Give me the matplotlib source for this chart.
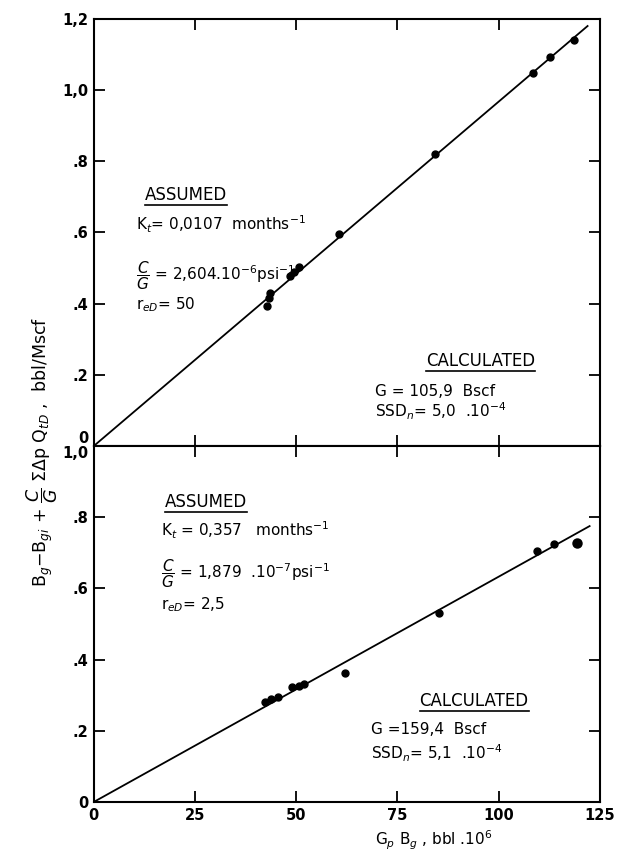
import numpy as np
import matplotlib
matplotlib.use("Agg")
import matplotlib.pyplot as plt
from matplotlib.lines import Line2D

plt.rcParams['font.family'] = 'DejaVu Sans'
plt.rcParams['mathtext.fontset'] = 'dejavusans'

# top panel data (Kt = 0.0107)
top_x = [42.8, 43.3, 43.6, 48.5, 49.5, 50.7, 60.6, 84.2, 108.4, 112.6, 118.6]
top_y = [0.394, 0.417, 0.431, 0.479, 0.490, 0.503, 0.597, 0.820, 1.048, 1.093, 1.141]
top_line_x = [0, 122]
top_line_y = [0, 1.18]

# bottom panel data (Kt = 0.357)
bot_x = [42.4, 43.8, 45.4, 49.0, 50.7, 52.0, 62.0, 85.4, 109.4, 113.8, 119.5]
bot_y = [0.282, 0.289, 0.295, 0.322, 0.326, 0.330, 0.363, 0.532, 0.704, 0.724, 0.727]
bot_line_x = [0, 122.5]
bot_line_y = [0, 0.775]

xticks = [0, 25, 50, 75, 100, 125]
top_yticks = [0, 0.2, 0.4, 0.6, 0.8, 1.0, 1.2]
top_ylabels = ['0', '.2', '.4', '.6', '.8', '1,0', '1,2']
bot_yticks = [0, 0.2, 0.4, 0.6, 0.8, 1.0]
bot_ylabels = ['0', '.2', '.4', '.6', '.8', '1,0']

fig = plt.figure(figsize=(6.17, 8.59), dpi=100)
ax1 = fig.add_axes([0.152, 0.4808, 0.82, 0.4972])
ax2 = fig.add_axes([0.152, 0.0664, 0.82, 0.4144])

for ax in (ax1, ax2):
    ax.set_xlim(0, 125)
    ax.set_xticks(xticks)
    ax.tick_params(direction='in', length=8, width=1.3, top=True, right=True,
                   labelsize=10.5, pad=4)
    for s in ax.spines.values():
        s.set_linewidth(1.5)

ax1.plot(top_line_x, top_line_y, c='k', lw=1.3)
ax1.plot(top_x, top_y, 'o', c='k', ms=5)
ax1.set_ylim(0, 1.2)
ax1.set_yticks(top_yticks)
ax1.set_yticklabels(top_ylabels, fontweight='bold')
ax1.tick_params(labelbottom=False)

ax2.plot(bot_line_x, bot_line_y, c='k', lw=1.3)
ax2.plot(bot_x, bot_y, 'o', c='k', ms=5)
ax2.plot(bot_x[-1], bot_y[-1], 'o', c='k', ms=6.5)
ax2.set_ylim(0, 1.0)
ax2.set_yticks(bot_yticks)
ax2.set_yticklabels(bot_ylabels, fontweight='bold')
ax2.set_xticklabels([str(v) for v in xticks], fontweight='bold')

# keep the "0" of the top panel and "1,0" of the bottom panel apart
ax1.get_yticklabels()[0].set_va('bottom')
ax2.get_yticklabels()[-1].set_va('top')

fs = 11
t1 = ax1.text(12.6, 0.69, 'ASSUMED', fontsize=12)
ax1.text(10.5, 0.605, r'K$_t$= 0,0107  months$^{-1}$', fontsize=fs)
ax1.text(10.5, 0.465, r'$\dfrac{C}{G}$ = 2,604.10$^{-6}$psi$^{-1}$', fontsize=fs)
ax1.text(10.5, 0.385, r'r$_{eD}$= 50', fontsize=fs)
t2 = ax1.text(82.0, 0.225, 'CALCULATED', fontsize=12)
ax1.text(69.5, 0.14, 'G = 105,9  Bscf', fontsize=fs)
ax1.text(69.5, 0.08, r'SSD$_n$= 5,0  .10$^{-4}$', fontsize=fs)

t3 = ax2.text(17.5, 0.83, 'ASSUMED', fontsize=12)
ax2.text(16.5, 0.745, r'K$_t$ = 0,357   months$^{-1}$', fontsize=fs)
ax2.text(16.5, 0.63, r'$\dfrac{C}{G}$ = 1,879  .10$^{-7}$psi$^{-1}$', fontsize=fs)
ax2.text(16.5, 0.54, r'r$_{eD}$= 2,5', fontsize=fs)
t4 = ax2.text(80.5, 0.27, 'CALCULATED', fontsize=12)
ax2.text(68.5, 0.19, 'G =159,4  Bscf', fontsize=fs)
ax2.text(68.5, 0.12, r'SSD$_n$= 5,1  .10$^{-4}$', fontsize=fs)

fig.text(0.068, 0.474,
         r'B$_g$$-$B$_{gi}$ + $\dfrac{C}{G}$ $\Sigma\Delta$p Q$_{tD}$ ,  bbl/Mscf',
         rotation=90, ha='center', va='center', fontsize=12.5)
fig.text(0.703, 0.022, r'G$_p$ B$_g$ , bbl .10$^6$', ha='center', va='center',
         fontsize=11)

# underline the headings
fig.canvas.draw()
r = fig.canvas.get_renderer()
inv = fig.transFigure.inverted()
for t in (t1, t2, t3, t4):
    bb = t.get_window_extent(r)
    (x0, y0), (x1, _) = inv.transform([[bb.x0, bb.y0 - 1], [bb.x1, bb.y0]])
    fig.add_artist(Line2D([x0, x1], [y0, y0], color='k', lw=1.2))

fig.savefig('out.png', dpi=100)
